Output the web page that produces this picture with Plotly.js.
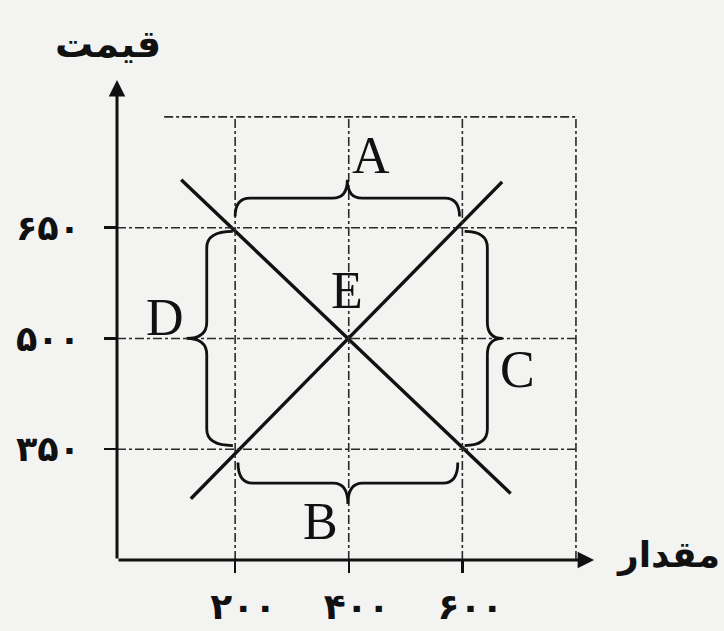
<!DOCTYPE html>
<html>
<head>
<meta charset="utf-8">
<script src="https://cdn.plot.ly/plotly-3.0.1.min.js"></script>
<style>html,body{margin:0;padding:0;background:#f3f3f1;}#chart{width:724px;height:631px;}</style>
</head>
<body>
<div id="chart"></div>
<script>
// ---- data ----
const quantityTicks = [200, 400, 600];
const quantityTickLabels = ['۲۰۰', '۴۰۰', '۶۰۰'];
const priceTicks = [350, 500, 650];
const priceTickLabels = ['۳۵۰', '۵۰۰', '۶۵۰'];
const demandQ = [105, 685];
const demandP = [715, 290];
const supplyQ = [122, 670];
const supplyP = [283, 712];
const frameQ = 800;
const frameP = 800;
const braceLabels = ['A', 'B', 'C', 'D', 'E'];
const braceLabelQ = [440, 351, 697, 77, 397];
const braceLabelP = [748, 252, 458, 529, 565];
// braces: [orientation, from, to, endPos, mainPos, tipPos]
const braceOrient = ['up', 'down', 'right', 'left'];
const braceFrom = [200, 205, 645, 645];
const braceTo = [595, 592, 355, 355];
const braceEnd = [665, 332, 604, 196];
const braceMain = [690, 304, 644, 150];
const braceTip = [715, 276, 671, 114];
const xTitle = 'مقدار';
const yTitle = 'قیمت';

// ---- layout helpers ----
const xRange = [-8, 830];
const yRange = [200, 850];
const ink = '#111';
const grid = '#2a2a2a';

const shapes = [];
function seg(x0, y0, x1, y1) {
  shapes.push({type: 'line', xref: 'x', yref: 'y', x0: x0, y0: y0, x1: x1, y1: y1,
    line: {color: grid, width: 1.6, dash: 'dashdot'}});
}
priceTicks.forEach(p => seg(xRange[0], p, frameQ, p));
seg(75, frameP, frameQ, frameP);
quantityTicks.forEach(q => seg(q, yRange[0], q, frameP));
seg(frameQ, yRange[0], frameQ, frameP);

function braceH(a, b, yE, yM, yT) {
  const rx = 26, c = (a + b) / 2;
  return `M ${a},${yE} Q ${a},${yM} ${a + rx},${yM} L ${c - rx},${yM} Q ${c},${yM} ${c},${yT} ` +
         `Q ${c},${yM} ${c + rx},${yM} L ${b - rx},${yM} Q ${b},${yM} ${b},${yE}`;
}
function braceV(a, b, xE, xM, xT) {
  const ry = 22, c = (a + b) / 2, s = a > b ? -1 : 1;
  return `M ${xE},${a} Q ${xM},${a} ${xM},${a + s * ry} L ${xM},${c - s * ry} Q ${xM},${c} ${xT},${c} ` +
         `Q ${xM},${c} ${xM},${c + s * ry} L ${xM},${b - s * ry} Q ${xM},${b} ${xE},${b}`;
}
braceOrient.forEach((o, i) => {
  const path = (o === 'up' || o === 'down')
    ? braceH(braceFrom[i], braceTo[i], braceEnd[i], braceMain[i], braceTip[i])
    : braceV(braceFrom[i], braceTo[i], braceEnd[i], braceMain[i], braceTip[i]);
  shapes.push({type: 'path', xref: 'x', yref: 'y', path: path, line: {color: ink, width: 2.8}});
});

const annotations = [];
braceLabels.forEach((t, i) => annotations.push({
  x: braceLabelQ[i], y: braceLabelP[i], xref: 'x', yref: 'y', text: t, showarrow: false,
  font: {family: 'Liberation Serif, serif', size: 52, color: ink}
}));
// axes with arrows
annotations.push({x: 832, y: yRange[0], ax: xRange[0], ay: yRange[0], xref: 'x', yref: 'y', axref: 'x', ayref: 'y',
  text: '', showarrow: true, arrowhead: 2, arrowsize: 1.1, arrowwidth: 3, arrowcolor: ink, standoff: 0, startstandoff: 0});
annotations.push({x: xRange[0], y: 850, ax: xRange[0], ay: yRange[0], xref: 'x', yref: 'y', axref: 'x', ayref: 'y',
  text: '', showarrow: true, arrowhead: 2, arrowsize: 1.1, arrowwidth: 3, arrowcolor: ink, standoff: 0, startstandoff: 0});
annotations.push({x: 1.158, y: 0.01, xref: 'paper', yref: 'paper', xanchor: 'center', yanchor: 'middle',
  text: xTitle, showarrow: false, font: {family: 'DejaVu Sans', size: 36, color: ink, weight: 'bold'}});
annotations.push({x: -0.019, y: 1.075, xref: 'paper', yref: 'paper', xanchor: 'center', yanchor: 'middle',
  text: yTitle, showarrow: false, font: {family: 'DejaVu Sans', size: 38, color: ink, weight: 'bold'}});

const traces = [
  {x: demandQ, y: demandP, mode: 'lines', line: {color: ink, width: 3.4}, hoverinfo: 'skip', cliponaxis: false},
  {x: supplyQ, y: supplyP, mode: 'lines', line: {color: ink, width: 3.4}, hoverinfo: 'skip', cliponaxis: false}
];

const layout = {
  width: 724, height: 631,
  margin: {l: 117, r: 131, t: 80, b: 71},
  paper_bgcolor: '#f3f3f1', plot_bgcolor: 'rgba(0,0,0,0)',
  showlegend: false,
  xaxis: {range: xRange, showgrid: false, zeroline: false, showline: false,
    tickvals: quantityTicks, ticktext: quantityTickLabels, ticks: 'outside', ticklen: 12, tickwidth: 2.5, tickcolor: ink,
    tickfont: {family: 'DejaVu Sans', size: 36, color: ink, weight: 'bold'}, ticklabelstandoff: 3, ticklabelshift: 8,
    fixedrange: true},
  yaxis: {range: yRange, showgrid: false, zeroline: false, showline: false,
    tickvals: priceTicks, ticktext: priceTickLabels, ticks: 'outside', ticklen: 12, tickwidth: 2.5, tickcolor: ink,
    tickfont: {family: 'DejaVu Sans', size: 35, color: ink, weight: 'bold'}, ticklabelstandoff: 17, fixedrange: true},
  shapes: shapes,
  annotations: annotations
};
Plotly.newPlot('chart', traces, layout, {displayModeBar: false, staticPlot: true});
</script>
</body>
</html>
